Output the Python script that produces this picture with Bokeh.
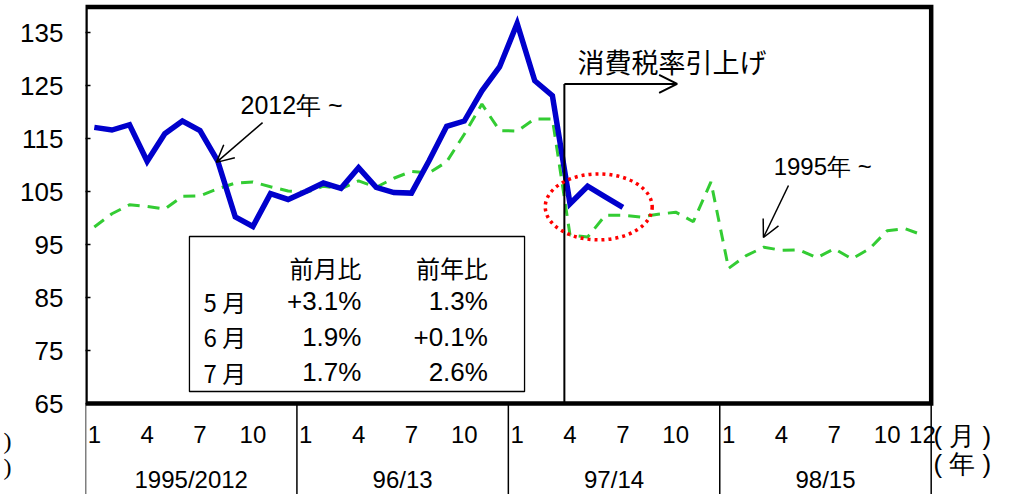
from bokeh.plotting import figure
from bokeh.models import Range1d, FixedTicker, Arrow, OpenHead, LinearAxis
from bokeh.embed import file_html
from bokeh.resources import INLINE
from bokeh.core.properties import value

# ---------------- data ----------------
year_labels = ["1995/2012", "96/13", "97/14", "98/15"]
month_tick_labels = ["1", "4", "7", "10"]
last_month_label = "12"
y_ticks = [65, 75, 85, 95, 105, 115, 125, 135]

# 2012~ (solid blue), Jan 2012 .. Jul 2014
series_2012 = [117.1, 116.6, 117.6, 110.7, 115.9, 118.3, 116.5, 110.8, 100.2, 98.4, 104.6, 103.5,
               105.0, 106.6, 105.6, 109.5, 105.8, 104.8, 104.7, 110.8, 117.3, 118.3, 124.0, 128.5,
               136.7, 125.9, 123.1, 102.7, 106.0, 104.0, 102.0]
# 1995~ (dashed green), Jan 1995 .. Dec 1998
series_1995 = [98.3, 100.8, 102.5, 102.2, 101.7, 104.1, 104.2, 105.5, 106.6, 106.8, 105.9, 105.1,
               104.8, 106.0, 105.5, 107.0, 105.8, 107.5, 108.8, 108.5, 110.6, 115.8, 121.5, 116.5,
               116.4, 118.7, 118.7, 96.8, 96.4, 100.5, 100.5, 100.2, 100.7, 101.1, 99.3, 106.8,
               90.5, 92.9, 94.5, 93.9, 94.0, 92.5, 94.2, 92.3, 94.2, 97.6, 98.0, 96.8]

table_header = ["前月比", "前年比"]
table_rows = ["5 月", "6 月", "7 月"]
table_mom = ["+3.1%", "1.9%", "1.7%"]
table_yoy = ["1.3%", "+0.1%", "2.6%"]

label_2012 = "2012年 ~"
label_1995 = "1995年 ~"
label_tax = "消費税率引上げ"
unit_month = "( 月 )"
unit_year = "( 年 )"
left_cut_marks = {58: ")", 53: ")"}

# ---------------- figure ----------------
n_months = 12 * len(year_labels)
x_lo, x_hi = 0.5, n_months + 0.5
y_lo = y_ticks[0]
y_top = 139.8

p = figure(width=1026, height=494, output_backend="svg", toolbar_location=None,
           x_range=Range1d(0.5, 53.91), y_range=Range1d(47.83, 141.04),
           x_axis_location=None, min_border_left=85, min_border_right=0,
           min_border_top=0, min_border_bottom=0, outline_line_color=None,
           background_fill_color="white", border_fill_color="white")
p.xgrid.visible = False
p.ygrid.visible = False

ya = p.yaxis[0]
ya.ticker = FixedTicker(ticks=y_ticks)
ya.axis_line_color = None
ya.major_tick_in = 5
ya.major_tick_out = 0
ya.major_tick_line_width = 1.5
ya.major_tick_line_color = "black"
ya.minor_tick_line_color = None
ya.major_label_text_font = "Liberation Sans"
ya.major_label_text_font_size = "26px"
ya.major_label_text_color = "black"
ya.major_label_standoff = 22

# clipped unit marks at far left edge
cut_axis = LinearAxis(ticker=FixedTicker(ticks=list(left_cut_marks.keys())),
                      major_label_overrides=left_cut_marks,
                      axis_line_color=None, major_tick_line_color=None,
                      minor_tick_line_color=None, major_tick_in=0, major_tick_out=0,
                      major_label_standoff=6, major_label_text_font="Liberation Serif",
                      major_label_text_font_size="24px", major_label_text_color="black")
p.add_layout(cut_axis, "left")

# ---------------- series ----------------
x95 = list(range(1, len(series_1995) + 1))
x12 = list(range(1, len(series_2012) + 1))
p.line(x95, series_1995, line_color="#33CC33", line_width=3, line_dash="12 8")
p.line(x12, series_2012, line_color="#0000CC", line_width=5.5, line_join="miter")

# ---------------- frame border ----------------
p.line([x_lo, x_lo, x_hi, x_hi, x_lo], [y_lo, y_top, y_top, y_lo, y_lo],
       line_color="black", line_width=4.5, line_join="miter")

# ---------------- custom category axis ----------------
y_bottom = 40
sep_x = [x_lo + 12 * k for k in range(len(year_labels) + 1)]
p.segment(x0=sep_x, y0=[y_lo] * len(sep_x), x1=sep_x, y1=[y_bottom] * len(sep_x),
          line_color="black", line_width=1.5)

mx, mt = [], []
for k in range(len(year_labels)):
    for lab in month_tick_labels:
        mx.append(12 * k + int(lab))
        mt.append(lab)
mx.append(n_months)
mt.append(last_month_label)
p.text(x=mx, y=[59.15] * len(mx), text=mt, text_font=value("Liberation Sans"),
       text_font_size="24px", text_align="center", text_baseline="middle", text_color="black")

yx = [12 * k + 6.5 for k in range(len(year_labels))]
p.text(x=yx, y=[50.66] * len(yx), text=year_labels, text_font=value("Liberation Sans"),
       text_font_size="24px", text_align="center", text_baseline="middle", text_color="black")

p.text(x=[48.63, 48.63], y=[58.8, 53.6], text=[unit_month, unit_year],
       text_font=value("Liberation Sans"), text_font_size="26px",
       text_align="left", text_baseline="middle", text_color="black")

# ---------------- table ----------------
p.quad(left=[6.40], right=[25.42], bottom=[67.26], top=[96.51],
       fill_color="white", line_color="black", line_width=1.3)
p.text(x=[16.16, 23.34], y=[90.66, 90.66], text=table_header,
       text_font=value("Noto Sans CJK JP"), text_font_size="24px",
       text_align="right", text_baseline="middle", text_color="black")
row_y = [84.30, 77.64, 70.91]
p.text(x=[7.20] * 3, y=row_y, text=table_rows, text_font=value("Noto Sans CJK JP"),
       text_font_size="24px", text_align="left", text_baseline="middle", text_color="black")
p.text(x=[16.16] * 3, y=row_y, text=table_mom, text_font=value("Liberation Sans"),
       text_font_size="26px", text_align="right", text_baseline="middle", text_color="black")
p.text(x=[23.34] * 3, y=row_y, text=table_yoy, text_font=value("Liberation Sans"),
       text_font_size="26px", text_align="right", text_baseline="middle", text_color="black")

# ---------------- annotations ----------------
# tax hike marker
p.segment(x0=[27.68], y0=[y_lo], x1=[27.68], y1=[125.3], line_color="black", line_width=2)
p.add_layout(Arrow(x_start=27.68, y_start=125.3, x_end=34.08, y_end=125.3,
                   line_color="black", line_width=2,
                   end=OpenHead(size=18, line_color="black", line_width=2)))
p.text(x=[28.42], y=[129.5], text=[label_tax], text_font=value("Noto Sans CJK JP"),
       text_font_size="27px", text_align="left", text_baseline="middle", text_color="black")

# 2012 label + arrow
p.text(x=[9.30], y=[121.4], text=[label_2012], text_font=value("Liberation Sans"),
       text_font_size="25px", text_align="left", text_baseline="middle", text_color="black")
p.add_layout(Arrow(x_start=10.55, y_start=118.0, x_end=7.93, y_end=110.5,
                   line_color="black", line_width=1.5,
                   end=OpenHead(size=17, line_color="black", line_width=1.5)))

# 1995 label + arrow
p.text(x=[39.56], y=[109.77], text=[label_1995], text_font=value("Liberation Sans"),
       text_font_size="24px", text_align="left", text_baseline="middle", text_color="black")
p.add_layout(Arrow(x_start=40.40, y_start=106.13, x_end=38.98, y_end=96.32,
                   line_color="black", line_width=1.5,
                   end=OpenHead(size=17, line_color="black", line_width=1.5)))

# red dotted ellipse
p.ellipse(x=[29.63], y=[102.1], width=6.07, height=12.45, fill_color=None,
          line_color="#FF0000", line_width=3.5, line_dash="3 4")

open("out.html", "w").write(file_html(p, INLINE))
